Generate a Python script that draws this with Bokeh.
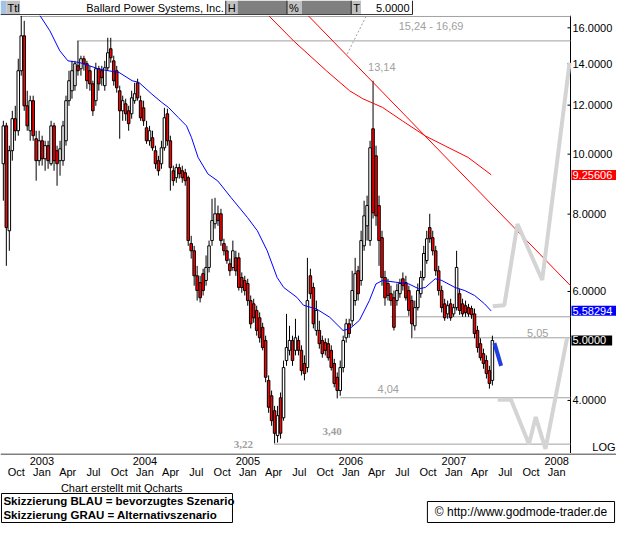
import numpy as np
import pandas as pd
from bokeh.plotting import figure
from bokeh.layouts import column
from bokeh.models import Range1d, Label, ColumnDataSource
from bokeh.core.properties import value
from bokeh.embed import file_html
from bokeh.resources import INLINE

FONT = "Liberation Sans"

# ---------------- data ----------------
first_bar = "2002-08-17"
last_bar = "2007-05-18"

opens = [9.65, 11.11, 7.52, 10.13, 11.41, 10.91, 13.64, 15.53, 11.97, 10.91,
         12.20, 10.59, 9.76, 10.51, 9.83, 10.32, 9.65, 11.11, 10.13, 9.76,
         9.76, 10.51, 12.20, 12.66, 12.90, 13.89, 13.74, 14.26, 14.00, 13.64,
         12.99, 12.20, 13.74, 13.64, 12.90, 13.79, 14.80, 14.15, 13.64, 12.66,
         11.75, 12.06, 11.75, 11.62, 12.20, 13.04, 12.20, 11.88, 11.03, 10.51,
         10.63, 10.13, 9.76, 9.65, 10.24, 11.62, 10.51, 9.40, 9.16, 9.51,
         9.40, 9.33, 9.16, 7.17, 6.98, 6.36, 6.20, 6.41, 6.25, 6.56,
         7.25, 7.72, 8.01, 8.01, 7.17, 6.98, 6.65, 6.56, 6.80, 6.80,
         6.32, 6.25, 6.18, 5.80, 5.73, 5.59, 5.44, 5.25, 5.00, 4.31,
         4.07, 3.85, 3.51, 4.04, 3.75, 4.64, 4.82, 5.00, 4.82, 5.00,
         4.82, 4.59, 4.52, 6.36, 6.09, 5.19, 5.19, 5.00, 4.96, 4.94,
         4.82, 4.59, 4.36, 4.15, 4.52, 5.05, 5.32, 5.38, 5.80, 6.48,
         6.25, 7.11, 7.66, 7.25, 10.99, 9.94, 8.26, 7.33, 6.32, 6.18,
         5.95, 5.86, 5.80, 5.95, 6.29, 6.20, 6.02, 5.80, 5.28, 5.65,
         5.95, 6.32, 6.73, 7.61, 7.33, 6.98, 6.48, 6.02, 5.73, 5.52,
         5.73, 5.52, 5.65, 5.95, 5.73, 5.69, 5.65, 5.63, 5.52, 5.19,
         4.94, 4.76, 4.64, 4.47, 4.31]
highs = [11.32, 11.24, 10.32, 11.75, 11.97, 14.26, 16.73, 16.42, 12.66, 12.43,
         12.43, 10.91, 10.91, 10.71, 10.51, 10.51, 11.32, 11.24, 10.32, 10.51,
         11.32, 12.43, 13.64, 14.15, 14.15, 15.25, 14.42, 14.42, 14.15, 13.89,
         13.14, 14.05, 13.89, 13.89, 14.15, 15.42, 15.42, 14.42, 13.89, 12.90,
         12.43, 12.29, 11.97, 12.66, 13.04, 13.24, 12.43, 12.20, 11.32, 11.11,
         10.91, 10.32, 9.94, 10.51, 11.88, 11.84, 10.71, 9.58, 9.65, 9.65,
         9.58, 9.47, 9.23, 7.38, 7.11, 6.60, 6.36, 6.53, 6.86, 7.25,
         8.47, 8.50, 8.26, 8.16, 7.30, 7.11, 6.78, 7.25, 6.98, 6.93,
         6.44, 6.36, 6.29, 5.91, 5.84, 5.69, 5.55, 5.34, 5.09, 4.39,
         4.15, 3.92, 3.92, 4.12, 4.64, 5.52, 5.28, 5.09, 5.42, 5.09,
         4.91, 4.73, 6.80, 6.53, 6.20, 5.80, 5.38, 5.09, 5.04, 5.04,
         4.91, 4.67, 4.44, 4.64, 5.09, 5.42, 5.42, 6.48, 6.80, 6.60,
         7.52, 8.41, 8.57, 10.51, 13.14, 10.32, 8.57, 7.52, 6.48, 6.29,
         6.13, 6.02, 6.18, 6.29, 6.44, 6.36, 6.13, 5.91, 5.80, 6.18,
         6.48, 7.11, 7.52, 8.01, 7.52, 7.11, 6.60, 6.13, 5.84, 5.80,
         5.84, 5.73, 6.98, 6.06, 5.84, 5.80, 5.73, 5.69, 5.63, 5.28,
         5.04, 4.85, 4.73, 4.55, 5.09]
lows = [8.41, 6.60, 6.98, 9.76, 10.51, 10.71, 13.39, 11.75, 10.91, 10.51,
        10.51, 9.06, 9.58, 9.58, 9.40, 9.47, 9.58, 9.40, 8.89, 9.23,
        9.58, 10.32, 11.97, 12.29, 12.66, 13.39, 13.39, 13.64, 12.75, 12.66,
        11.53, 11.97, 12.66, 12.90, 12.66, 13.64, 14.05, 12.90, 12.57, 10.59,
        11.32, 11.32, 10.91, 11.41, 12.06, 12.20, 11.32, 11.11, 10.39, 10.32,
        10.13, 9.47, 9.23, 9.47, 10.13, 10.32, 8.73, 8.89, 8.99, 9.13,
        8.99, 8.89, 7.11, 6.78, 6.13, 5.80, 5.76, 5.91, 6.13, 6.44,
        7.11, 7.58, 7.66, 7.11, 6.86, 6.65, 6.36, 6.48, 6.36, 6.02,
        5.97, 5.91, 5.69, 5.23, 5.34, 5.09, 4.96, 4.82, 4.28, 3.82,
        3.64, 3.41, 3.42, 3.47, 3.71, 4.55, 4.73, 4.55, 4.73, 4.73,
        4.39, 4.31, 4.44, 5.84, 5.23, 5.09, 4.85, 4.69, 4.73, 4.64,
        4.47, 4.20, 4.03, 4.07, 4.44, 4.96, 5.05, 5.28, 5.69, 5.80,
        6.13, 6.98, 7.25, 7.11, 7.87, 7.66, 6.60, 6.13, 5.69, 5.80,
        5.69, 5.19, 5.69, 5.86, 6.02, 5.80, 5.48, 5.04, 5.19, 5.59,
        5.86, 6.25, 6.65, 7.19, 6.86, 6.36, 5.91, 5.55, 5.38, 5.42,
        5.38, 5.46, 5.59, 5.50, 5.46, 5.46, 5.46, 5.42, 5.04, 4.78,
        4.64, 4.50, 4.34, 4.18, 4.23]
closes = [11.11, 7.61, 10.13, 11.41, 10.91, 13.64, 15.53, 11.97, 11.11, 12.20,
          10.71, 9.76, 10.51, 9.83, 10.32, 9.76, 11.11, 9.76, 9.65, 10.20,
          11.11, 12.20, 13.14, 13.64, 14.00, 13.64, 14.26, 14.00, 13.14, 12.99,
          11.75, 13.74, 12.99, 13.29, 13.79, 14.58, 14.31, 13.14, 12.80, 11.75,
          12.20, 11.62, 11.20, 12.33, 12.52, 12.33, 11.45, 11.32, 10.51, 10.91,
          10.24, 9.65, 9.40, 10.24, 11.45, 10.51, 9.51, 9.06, 9.51, 9.30,
          9.16, 9.06, 7.25, 6.98, 6.36, 6.02, 5.86, 6.02, 6.56, 7.11,
          7.81, 8.01, 7.81, 7.25, 6.98, 6.73, 6.48, 6.98, 6.48, 6.09,
          6.09, 6.02, 5.80, 5.32, 5.44, 5.19, 5.05, 4.87, 4.36, 3.90,
          3.71, 3.54, 3.78, 3.54, 4.52, 4.87, 5.00, 4.64, 5.05, 4.82,
          4.47, 4.42, 5.80, 5.95, 5.32, 5.59, 4.94, 4.76, 4.82, 4.69,
          4.52, 4.26, 4.15, 4.52, 5.00, 5.32, 5.13, 6.02, 6.41, 5.95,
          7.25, 7.95, 8.26, 10.24, 8.04, 7.95, 7.25, 6.32, 5.86, 5.91,
          5.80, 5.25, 6.02, 6.18, 6.13, 5.86, 5.59, 5.32, 5.65, 6.02,
          6.32, 6.91, 7.30, 7.30, 6.98, 6.48, 6.02, 5.65, 5.44, 5.69,
          5.44, 5.65, 6.56, 5.59, 5.52, 5.55, 5.52, 5.50, 5.13, 4.87,
          4.69, 4.59, 4.42, 4.26, 5.00]

# moving averages (decimal years, price)
ma_blue_years = [2002.98, 2003.077, 2003.173, 2003.252, 2003.365, 2003.461, 2003.557,
                 2003.653, 2003.749, 2003.876, 2003.941, 2004.068, 2004.164, 2004.228,
                 2004.324, 2004.404, 2004.452, 2004.516, 2004.612, 2004.708, 2004.836,
                 2004.996, 2005.092, 2005.188, 2005.284, 2005.348, 2005.476, 2005.540,
                 2005.668, 2005.796, 2005.924, 2005.988, 2006.084, 2006.180, 2006.244,
                 2006.308, 2006.436, 2006.564, 2006.660, 2006.724, 2006.820, 2006.884,
                 2007.012, 2007.107, 2007.203, 2007.299, 2007.364]
ma_blue_values = [16.75, 15.82, 14.69, 14.15, 14.06, 13.89, 13.72, 13.63, 13.55, 13.14,
                  13.06, 12.50, 12.12, 11.90, 11.46, 11.11, 10.64, 9.88, 9.29, 9.05,
                  8.51, 7.90, 7.52, 6.98, 6.32, 6.09, 5.87, 5.70, 5.62, 5.45, 5.19,
                  5.22, 5.39, 5.80, 6.17, 6.25, 6.21, 6.17, 6.06, 6.09, 6.29, 6.25,
                  6.09, 6.02, 5.91, 5.73, 5.58]
ma_red_years = [2005.204, 2005.444, 2005.764, 2005.988, 2006.116, 2006.308, 2006.500,
                2006.724, 2006.916, 2007.139, 2007.364]
ma_red_values = [16.73, 15.24, 13.63, 12.66, 12.29, 11.90, 11.32, 10.70, 10.31, 9.88, 9.26]

trend_years = [2005.588, 2008.134]
trend_values = [16.73, 6.13]

dotted_years = [2006.148, 2005.956]
dotted_values = [16.69, 14.42]

levels = [16.69, 15.24, 5.46, 5.05, 4.04, 3.40]
level_starts = [2002.789, 2003.345, 2006.388, 2006.608, 2005.898, 2005.255]

level_texts = ["15,24 - 16,69", "13,14", "5,05", "4,04"]
level_text_years = [2006.4645, 2006.167, 2007.712, 2006.260]
level_text_values = [16.12, 13.81, 5.14, 4.17]
bold_texts = ["3,40", "3,22"]
bold_text_years = [2005.726, 2004.862]
bold_text_values = [3.56, 3.39]

up_years = [2007.379, 2007.491, 2007.619, 2007.859, 2008.125]
up_values = [5.68, 5.70, 7.71, 6.26, 14.05]
down_years = [2007.427, 2007.556, 2007.731, 2007.796, 2007.891, 2008.101]
down_values = [4.01, 4.01, 3.40, 3.76, 3.34, 5.05]
blue_years = [2007.395, 2007.460]
blue_values = [4.95, 4.55]

tag_values = [9.25606, 5.58294, 5.0]
tag_texts = ["9.25606", "5.58294", "5.0000"]
tag_colors = ["#ff0000", "#0000ff", "#000000"]

price_ticks = [4, 6, 8, 10, 12, 14, 16]
year_ticks = [2003, 2004, 2005, 2006, 2007, 2008]
quarter_ticks = [2002.75 + 0.25 * k for k in range(22)]
month_names = ["Jan", "Apr", "Jul", "Oct"]

title = "Ballard Power Systems, Inc."

# ---------------- derived ----------------
dates = pd.date_range(first_bar, last_bar, periods=len(closes))


def to_year(d):
    s = pd.Timestamp(year=d.year, month=1, day=1)
    e = pd.Timestamp(year=d.year + 1, month=1, day=1)
    return d.year + (d - s) / (e - s)


xs = [to_year(d) for d in dates]
bar_w = 0.85 * (xs[1] - xs[0])
up = [c >= o for o, c in zip(opens, closes)]
src = ColumnDataSource(dict(
    x=xs, high=highs, low=lows,
    top=[max(o, c) for o, c in zip(opens, closes)],
    bottom=[min(o, c) for o, c in zip(opens, closes)],
    fill=["#ffffff" if u else "#ff0000" for u in up],
))

x_start, x_end = 2002.597, 2008.134     # time span covered by the price panel
y_bottom, y_top = 3.2835, 16.75
W = 616
FRAME_W = 570                            # width of the price panel
x_full_end = x_start + (x_end - x_start) * W / FRAME_W
shared_x = Range1d(x_start, x_full_end)


def bare(width, height, xr, yr, **kw):
    f = figure(width=width, height=height, x_range=xr, y_range=yr,
               output_backend="svg", toolbar_location=None, min_border=0,
               x_axis_location=None, y_axis_location=None, **kw)
    f.outline_line_color = None
    f.grid.visible = False
    return f


# ---------------- header ----------------
hdr = bare(W, 15, Range1d(0, 623.5), Range1d(15, 0))
hl = [0, 6, 20, 228, 240, 290, 305, 355, 365]
hr = [6, 20, 228, 240, 290, 305, 355, 365, 417]
hc = ["#a4c2e4", "#c0c0c0", "#ffffff", "#c0c0c0", "#808080", "#c0c0c0", "#808080", "#c0c0c0", "#ffffff"]
hdr.quad(left=hl, right=hr, top=0, bottom=14, fill_color=hc, line_color=None)
hdr.segment(x0=[228, 290, 355, 417], y0=0, x1=[228, 290, 355, 417], y1=14, line_color="#202020", line_width=1)
hdr.segment(x0=[0], y0=[14], x1=[417], y1=[14], line_color="#404040", line_width=1)
hdr.text(x=[7, 230, 292, 357], y=7, text=["Ttl", "H", "%", "T"], text_font=value(FONT),
         text_font_size="11px", text_baseline="middle", text_color="black")
hdr.text(x=[226], y=[7], text=[title], text_font=value(FONT), text_font_size="11px",
         text_baseline="middle", text_align="right", text_color="black")
hdr.text(x=[414], y=[7], text=[f"{closes[-1]:.4f}"], text_font=value(FONT), text_font_size="11px",
         text_baseline="middle", text_align="right", text_color="black")

# ---------------- price panel ----------------
p = bare(W, 438, shared_x, Range1d(y_bottom, y_top), y_axis_type="log")
p.background_fill_color = "white"

# right-hand price scale
p.segment(x0=[x_end], y0=[y_bottom], x1=[x_end], y1=[y_top], line_color="black", line_width=1)
p.ray(x=[x_end] * len(price_ticks), y=price_ticks, length=3, angle=np.pi,
      length_units="screen", line_color="black", line_width=1)
p.text(x=[x_end] * len(price_ticks), y=price_ticks, text=[f"{t:.4f}" for t in price_ticks],
       x_offset=2, text_font=value(FONT), text_font_size="11px", text_baseline="middle",
       text_color="black")

# level lines
p.segment(x0=level_starts, y0=levels, x1=[x_end] * len(levels), y1=levels,
          line_color="#a0a0a0", line_width=1)
p.line(dotted_years, dotted_values, line_color="#a0a0a0", line_width=1, line_dash="2 2")

# candles
p.segment(x0="x", y0="low", x1="x", y1="high", source=src, line_color="black", line_width=1)
p.vbar(x="x", width=bar_w, top="top", bottom="bottom", source=src,
       fill_color="fill", line_color="black", line_width=1)

# moving averages and trend line
p.line(ma_blue_years, ma_blue_values, line_color="#0000ff", line_width=1)
p.line(ma_red_years, ma_red_values, line_color="#ff0000", line_width=1)
p.line(trend_years, trend_values, line_color="#ff0000", line_width=1)

# scenario sketches
p.line(up_years, up_values, line_color="#d4d4d4", line_width=4)
p.line(down_years, down_values, line_color="#d4d4d4", line_width=4)
p.line(blue_years, blue_values, line_color="#1f3fe0", line_width=4)

for t, xv, yv in zip(level_texts, level_text_years, level_text_values):
    p.add_layout(Label(x=xv, y=yv, text=t, text_font=FONT, text_font_size="11px",
                       text_color="#a0a0a0", text_baseline="middle"))
for t, xv, yv in zip(bold_texts, bold_text_years, bold_text_values):
    p.add_layout(Label(x=xv, y=yv, text=t, text_font="Liberation Serif", text_font_size="11px",
                       text_font_style="bold", text_color="#a0a0a0", text_baseline="middle"))

for v, t, c in zip(tag_values, tag_texts, tag_colors):
    p.add_layout(Label(x=x_end, y=v, x_offset=1, text=t, text_font=FONT, text_font_size="11px",
                       text_color="white", text_baseline="middle", background_fill_color=c,
                       padding=dict(left=1, right=6, top=1, bottom=1)))
p.text(x=[x_end], y=[3.36], text=["LOG"], x_offset=45, text_font=value(FONT),
       text_font_size="11px", text_baseline="middle", text_align="right", text_color="black")

# ---------------- time axis strip (same x range as the price panel) ----------------
ax = bare(W, 27, shared_x, Range1d(27, 0))
ax.segment(x0=[x_start], y0=[0.5], x1=[x_full_end], y1=[0.5], line_color="black", line_width=1)
ax.text(x=year_ticks, y=7, text=[str(y) for y in year_ticks], text_font=value(FONT),
        text_font_size="11px", text_align="center", text_baseline="middle", text_color="black")
month_labels = [month_names[int(round((t % 1) * 4)) % 4] for t in quarter_ticks]
ax.text(x=quarter_ticks, y=18, text=month_labels, text_font=value(FONT),
        text_font_size="11px", text_align="center", text_baseline="middle", text_color="black")

# ---------------- footer ----------------
ftr = bare(W, 43, Range1d(0, 632), Range1d(43, 0))
ftr.text(x=[62], y=[7], text=["Chart erstellt mit Qcharts"], text_font=value(FONT),
         text_font_size="11px", text_baseline="middle", text_color="black")
ftr.quad(left=[1], right=[238], top=[13], bottom=[42], fill_color="white", line_color="black")
ftr.text(x=[3, 3], y=[20.5, 34.5], text=["Skizzierung BLAU = bevorzugtes Szenario",
                                        "Skizzierung GRAU = Alternativszenario"],
         text_font=value(FONT), text_font_size="11.5px", text_font_style="bold",
         text_baseline="middle", text_color="black")
ftr.quad(left=[438], right=[630], top=[21], bottom=[42], fill_color="white", line_color="black")
ftr.text(x=[534], y=[31.5], text=["\u00a9 http://www.godmode-trader.de"], text_font=value(FONT),
         text_font_size="12px", text_baseline="middle", text_align="center", text_color="black")

layout = column(hdr, p, ax, ftr, spacing=0)
open("out.html", "w").write(file_html(layout, INLINE))
